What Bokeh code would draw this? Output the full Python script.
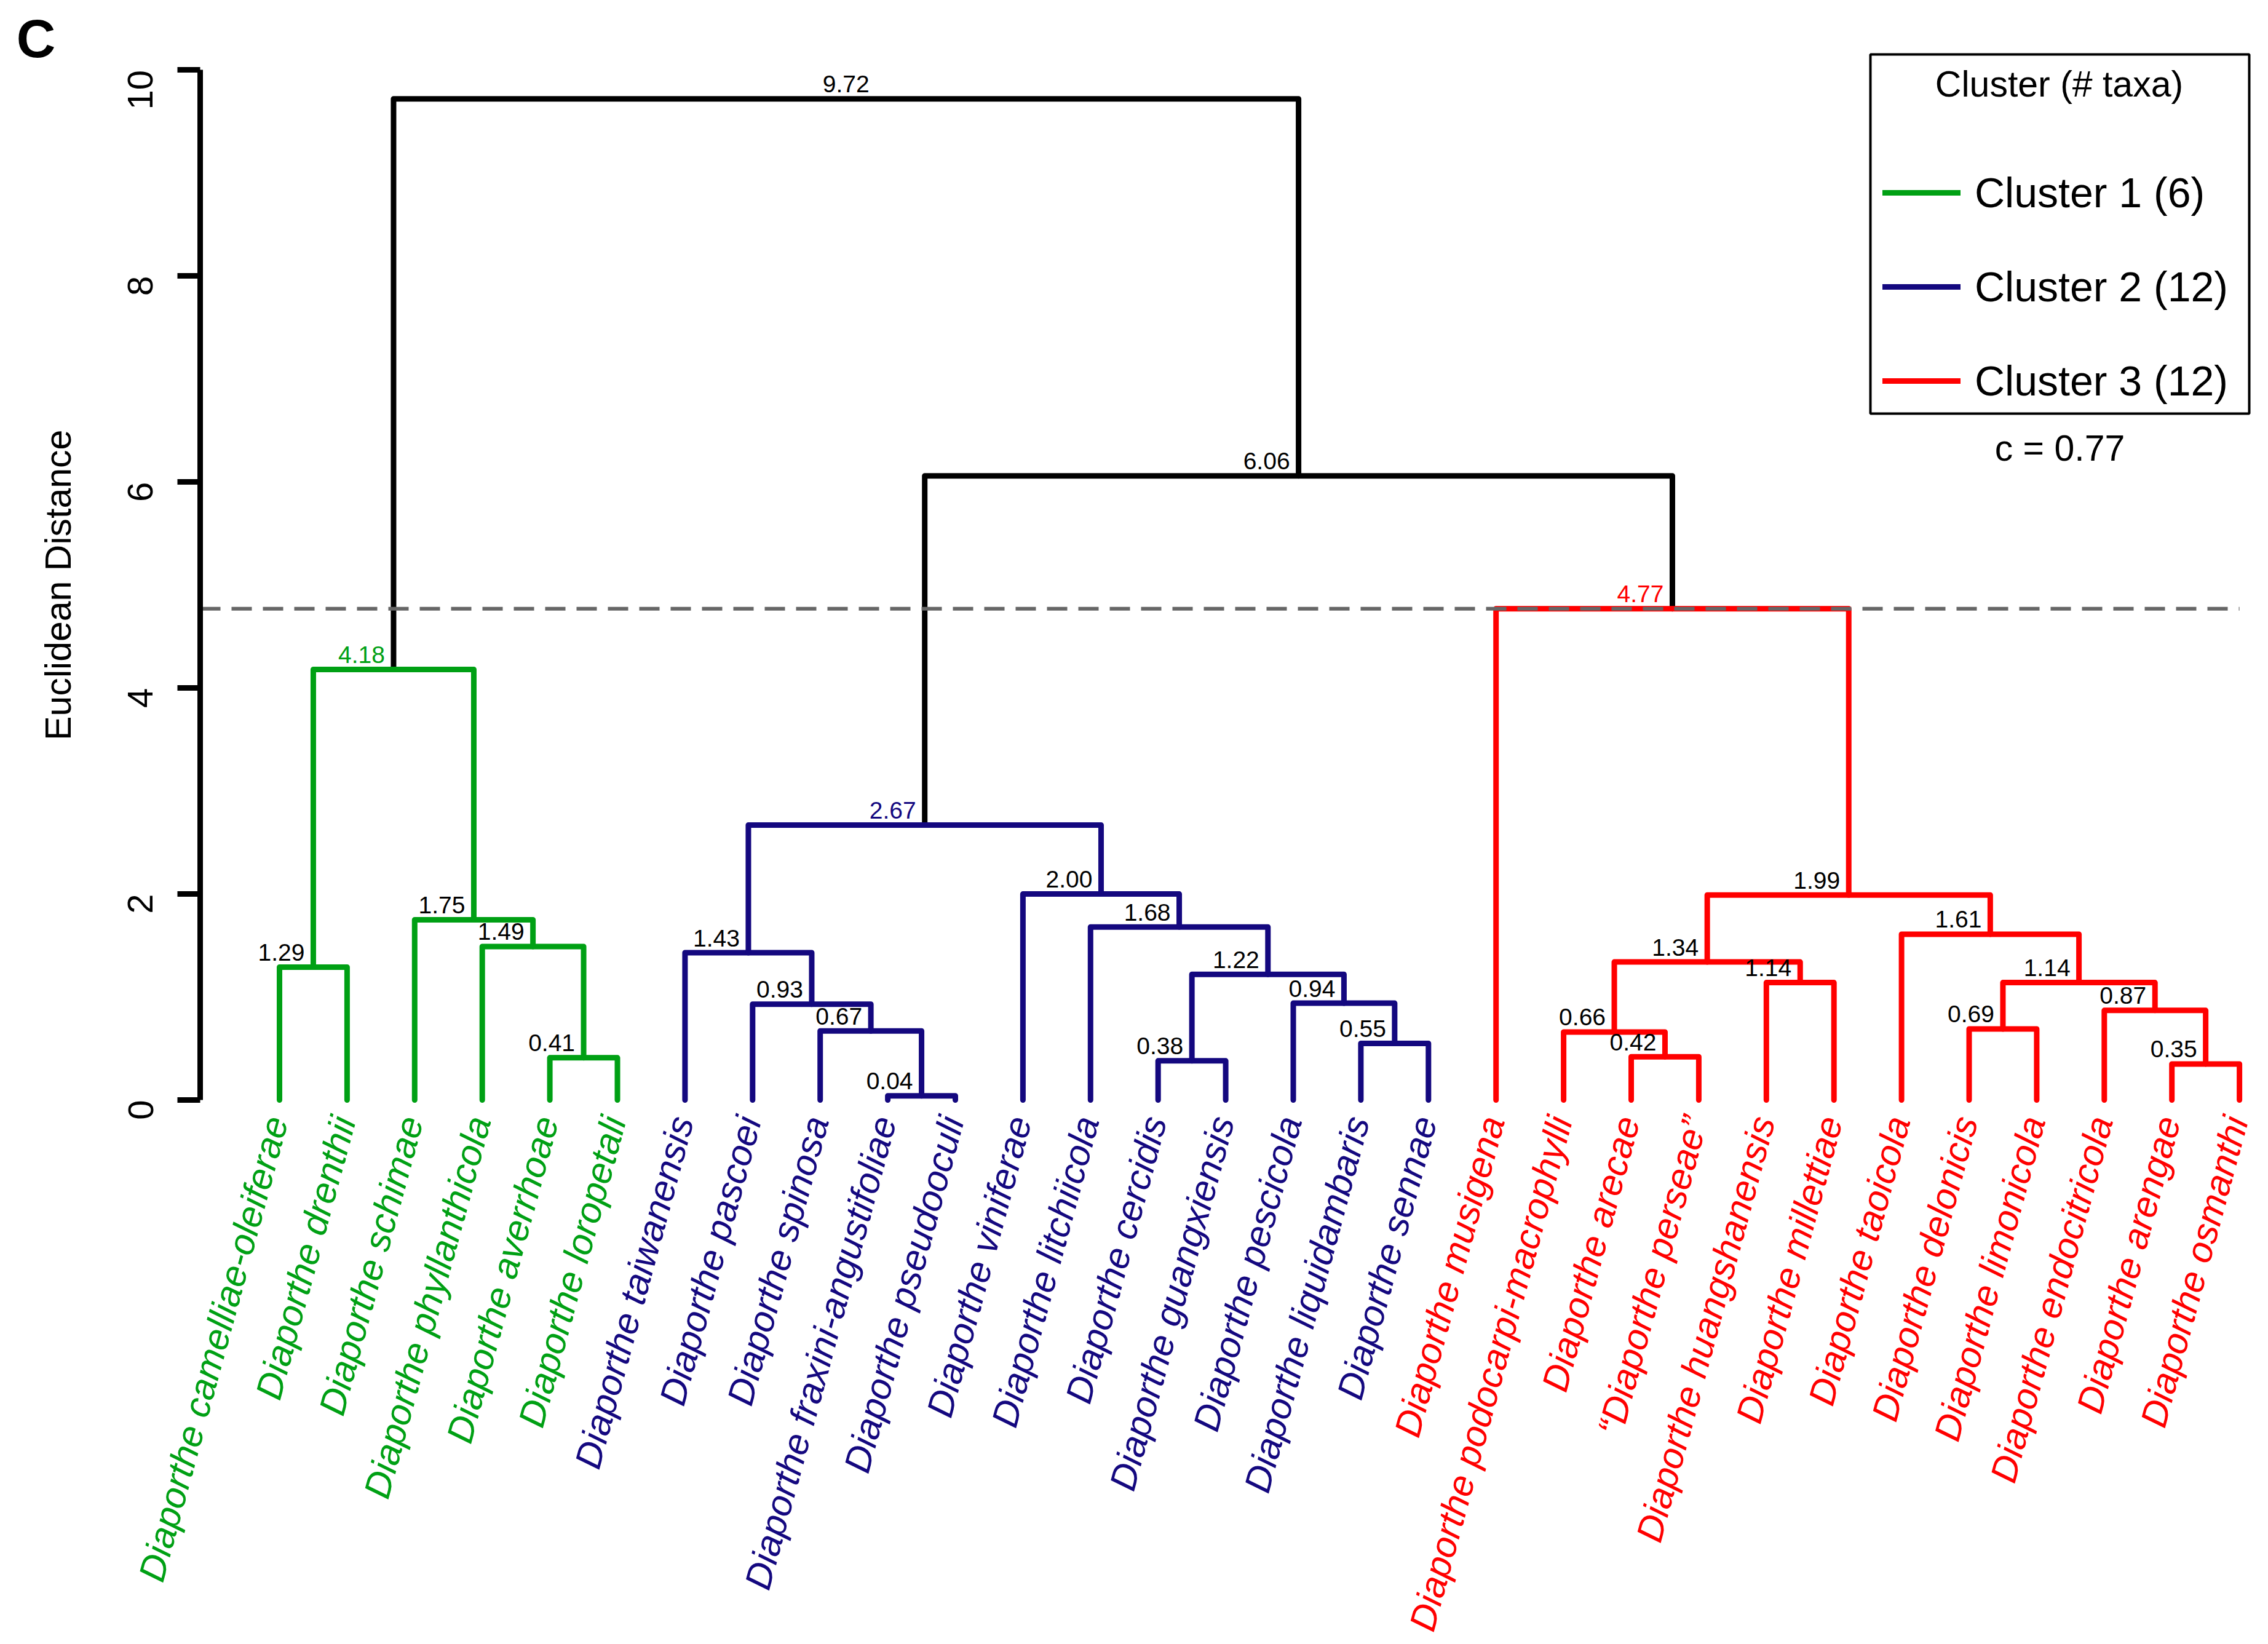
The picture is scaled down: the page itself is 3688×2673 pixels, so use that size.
import math
from bokeh.plotting import figure
from bokeh.models import (Range1d, FixedTicker, ColumnDataSource, BoxAnnotation,
                          Legend, LegendItem)
from bokeh.embed import file_html
from bokeh.resources import INLINE
from bokeh.core.properties import value

# ---------------- data ----------------
leaf_names = [
    "Diaporthe camelliae-oleiferae", "Diaporthe drenthii", "Diaporthe schimae",
    "Diaporthe phyllanthicola", "Diaporthe averrhoae", "Diaporthe loropetali",
    "Diaporthe taiwanensis", "Diaporthe pascoei", "Diaporthe spinosa",
    "Diaporthe fraxini-angustifoliae", "Diaporthe pseudooculi", "Diaporthe viniferae",
    "Diaporthe litchiicola", "Diaporthe cercidis", "Diaporthe guangxiensis",
    "Diaporthe pescicola", "Diaporthe liquidambaris", "Diaporthe sennae",
    "Diaporthe musigena", "Diaporthe podocarpi-macrophylli", "Diaporthe arecae",
    "\u201cDiaporthe perseae\u201d", "Diaporthe huangshanensis", "Diaporthe millettiae",
    "Diaporthe taoicola", "Diaporthe delonicis", "Diaporthe limonicola",
    "Diaporthe endocitricola", "Diaporthe arengae", "Diaporthe osmanthi",
]
leaf_cluster = [1] * 6 + [2] * 12 + [3] * 12

# merge table (R style): negative = leaf number, positive = earlier merge number
merge_left = [-10, -29, -14, -5, -21, -17, -20, -9, -26, -28, -8, -16, -23, 9, 3,
              -1, 7, -7, -4, -25, -13, -3, 17, -12, 18, 16, -19, 25, 26]
merge_right = [-11, -30, -15, -6, -22, -18, 5, 1, -27, 2, 8, 6, -24, 10, 12,
               -2, 13, 11, 4, 14, 15, 19, 20, 21, 24, 22, 23, 27, 28]
merge_height = [0.04, 0.35, 0.38, 0.41, 0.42, 0.55, 0.66, 0.67, 0.69, 0.87, 0.93, 0.94,
                1.14, 1.14, 1.22, 1.29, 1.34, 1.43, 1.49, 1.61, 1.68, 1.75, 1.99, 2.00,
                2.67, 4.18, 4.77, 6.06, 9.72]

cluster_labels = ["Cluster 1 (6)", "Cluster 2 (12)", "Cluster 3 (12)"]
cluster_colors = ["#00A014", "#14087F", "#FF0000"]
legend_title = "Cluster (# taxa)"
cut_height = 4.77
coph_text = "c = 0.77"
y_ticks = [0, 2, 4, 6, 8, 10]
y_bounds = (0, 10)
y_label = "Euclidean Distance"
panel_letter = "C"

# ---------------- layout constants (page pixels) ----------------
FIG_W, FIG_H = 3680, 2665
FRAME_L, FRAME_R, FRAME_T, FRAME_B = 0, FIG_W, 0, FIG_H
AXIS_PX = 325
LEAF_PX0, LEAF_STEP = 454.0, 109.9
Y0_PX, Y_UNIT = 1788.0, 167.46

n_leaf = len(leaf_names)
X0 = 1 - (LEAF_PX0 - FRAME_L) / LEAF_STEP
X1 = n_leaf + (FRAME_R - (LEAF_PX0 + (n_leaf - 1) * LEAF_STEP)) / LEAF_STEP
Y1 = (Y0_PX - FRAME_T) / Y_UNIT
Y0 = (Y0_PX - FRAME_B) / Y_UNIT


def px_x(px):
    return X0 + (px - FRAME_L) / (FRAME_R - FRAME_L) * (X1 - X0)


def px_y(py):
    return Y1 - (py - FRAME_T) / (FRAME_B - FRAME_T) * (Y1 - Y0)


AXIS_X = px_x(AXIS_PX)
FONT = value("Liberation Sans")
BLACK = "#000000"

# ---------------- tree geometry ----------------
node_x, node_h, node_cl = {}, {}, {}
parent = {}


def child(c):
    if c < 0:
        return float(-c), 0.0, {leaf_cluster[-c - 1]}
    return node_x[c], node_h[c], node_cl[c]


paths = {}  # color -> (xs, ys)
for k, h in enumerate(merge_height):
    m = k + 1
    xl, hl, cl = child(merge_left[k])
    xr, hr, cr = child(merge_right[k])
    for c in (merge_left[k], merge_right[k]):
        if c > 0:
            parent[c] = m
    node_x[m] = (xl + xr) / 2.0
    node_h[m] = h
    node_cl[m] = cl | cr
    col = cluster_colors[list(node_cl[m])[0] - 1] if len(node_cl[m]) == 1 else BLACK
    xs, ys = paths.setdefault(col, ([], []))
    xs.append([xl, xl, xr, xr])
    ys.append([hl, h, h, hr])

p = figure(width=FIG_W, height=FIG_H, output_backend="svg", toolbar_location=None,
           x_range=Range1d(X0, X1), y_range=Range1d(Y0, Y1),
           x_axis_location=None, y_axis_location="left",
           min_border_left=0, min_border_right=0,
           min_border_top=0, min_border_bottom=0)
p.grid.visible = False
p.outline_line_color = None
p.background_fill_color = "white"
p.border_fill_color = "white"

renderers = {}
for col in [BLACK] + cluster_colors:
    if col not in paths:
        continue
    xs, ys = paths[col]
    renderers[col] = p.multi_line(xs=xs, ys=ys, line_color=col, line_width=9,
                                  line_cap="round", line_join="round")

# cut line
p.segment(x0=[AXIS_X], y0=[cut_height], x1=[float(n_leaf)], y1=[cut_height],
          line_color="#666666", line_width=6, line_dash="33 18")

# node height labels
LAB_UP = 24.0 / Y_UNIT
lab_x, lab_y, lab_t, lab_c = [], [], [], []
root = len(merge_height)
for m in range(1, root):
    lab_x.append(node_x[m])
    lab_y.append(node_h[m] + LAB_UP)
    lab_t.append("%.2f" % node_h[m])
    is_cluster_root = len(node_cl[m]) == 1 and len(node_cl[parent[m]]) > 1
    lab_c.append(cluster_colors[list(node_cl[m])[0] - 1] if is_cluster_root else BLACK)
p.text(x="x", y="y", text="t", text_color="c",
       source=ColumnDataSource(dict(x=lab_x, y=lab_y, t=lab_t, c=lab_c)),
       text_font=FONT, text_font_size="39px", text_align="right",
       text_baseline="alphabetic", x_offset=-14)
p.text(x=[node_x[root]], y=[node_h[root] + LAB_UP], text=["%.2f" % node_h[root]],
       text_color=BLACK, text_font=FONT, text_font_size="39px", text_align="center",
       text_baseline="alphabetic")

# leaf labels
leaf_src = ColumnDataSource(dict(
    x=[float(i + 1) for i in range(n_leaf)],
    y=[0.0] * n_leaf,
    t=leaf_names,
    c=[cluster_colors[c - 1] for c in leaf_cluster],
))
p.text(x="x", y="y", text="t", source=leaf_src, text_color="c",
       angle=math.radians(74.8), text_align="right", text_baseline="middle",
       text_font=FONT, text_font_style="italic", text_font_size="60px",
       x_offset=-5, y_offset=28)

# y axis (fixed inside the frame so that labels can extend to the left)
ax = p.yaxis[0]
ax.fixed_location = AXIS_X
ax.bounds = y_bounds
ax.ticker = FixedTicker(ticks=y_ticks)
ax.minor_tick_line_color = None
ax.major_tick_in = 0
ax.major_tick_out = 37
ax.major_tick_line_width = 9
ax.axis_line_width = 9
ax.axis_line_color = BLACK
ax.major_tick_line_color = BLACK
ax.major_label_orientation = math.pi / 2
ax.major_label_text_font = "Liberation Sans"
ax.major_label_text_font_size = "58px"
ax.major_label_text_color = BLACK
ax.major_label_standoff = 60

# axis title
p.text(x=[px_x(94)], y=[(y_bounds[0] + y_bounds[1]) / 2.0], text=[y_label],
       angle=math.pi / 2, text_align="center", text_baseline="middle",
       text_font=FONT, text_font_size="59px", text_color=BLACK)

# legend
items = [LegendItem(label=cluster_labels[i], renderers=[renderers[cluster_colors[i]]])
         for i in range(len(cluster_labels))]
leg = Legend(items=items, location=(3061 - FRAME_L, FRAME_B - 664),
             padding=0, margin=0, spacing=63, glyph_width=127, glyph_height=90,
             label_standoff=23, label_text_font="Liberation Sans",
             label_text_font_size="68px", label_text_color=BLACK,
             border_line_alpha=0, background_fill_alpha=0)
p.add_layout(leg)
p.add_layout(BoxAnnotation(left=px_x(3041), right=px_x(3657), top=px_y(88), bottom=px_y(672),
                           fill_alpha=0, line_color=BLACK, line_alpha=1.0, line_width=4))
p.text(x=[px_x(3348)], y=[px_y(136)], text=[legend_title], text_align="center",
       text_baseline="middle", text_font=FONT, text_font_size="59px", text_color=BLACK)
p.text(x=[px_x(3349)], y=[px_y(728)], text=[coph_text], text_align="center",
       text_baseline="middle", text_font=FONT, text_font_size="59px", text_color=BLACK)
p.text(x=[px_x(58)], y=[px_y(62)], text=[panel_letter], text_align="center",
       text_baseline="middle", text_font=FONT, text_font_style="bold",
       text_font_size="88px", text_color=BLACK)

open("out.html", "w").write(file_html(p, INLINE))
